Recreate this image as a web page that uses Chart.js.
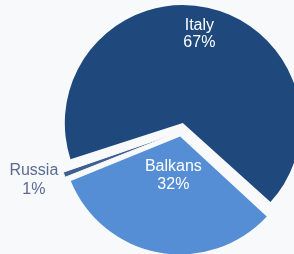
<!DOCTYPE html>
<html>
<head>
<meta charset="utf-8">
<script src="https://cdn.jsdelivr.net/npm/chart.js@4.4.1/dist/chart.umd.min.js"></script>
<style>
  html, body { margin: 0; padding: 0; background: #f8f9fa; }
  #wrap { width: 294px; height: 254px; position: relative; }
</style>
</head>
<body>
<div id="wrap"><canvas id="pieChart"></canvas></div>
<script>
var regions = ["Italy", "Balkans", "Russia"];
var shares = [67, 32, 1];
var sliceColors = ["#1f497d", "#558ed5", "#3e5f8f"];

// explode distance per slice (chart.js offset units, moves offset/4 px)
var explode = [34.4, 20, 26.4];

// label placement: distance from centre, angle nudge (deg), line height
var labelPos = [
    { r: 99, da: -1.4, lh: 16.5, color: "#ffffff" },
    { r: 45, da: -0.5, lh: 18.5, color: "#ffffff" },
    { r: 155, da: 2.0, lh: 18.5, color: "#5a6b93" }
];

// chart.js grows an offset arc's radius; take that back so slices stay equal
var keepRadius = {
    id: 'keepRadius',
    afterDatasetUpdate: function (chart) {
        var arcs = chart.getDatasetMeta(0).data;
        arcs.forEach(function (arc, i) {
            var fix = 1 - Math.sin(Math.min(Math.PI, arc.circumference || 0));
            arc.outerRadius = arc.outerRadius - (explode[i] / 4) * fix;
        });
    }
};

var sliceLabels = {
    id: 'sliceLabels',
    afterDatasetsDraw: function (chart) {
        var ctx = chart.ctx;
        var arcs = chart.getDatasetMeta(0).data;
        ctx.save();
        ctx.font = '16px "Liberation Sans", Arial, sans-serif';
        ctx.textAlign = 'center';
        ctx.textBaseline = 'middle';
        arcs.forEach(function (arc, i) {
            var p = arc.getProps(['x', 'y', 'startAngle', 'endAngle']);
            var lp = labelPos[i];
            var a = (p.startAngle + p.endAngle) / 2 + lp.da * Math.PI / 180;
            var x = p.x + Math.cos(a) * lp.r;
            var y = p.y + Math.sin(a) * lp.r;
            ctx.fillStyle = lp.color;
            ctx.fillText(regions[i], x, y - lp.lh / 2);
            ctx.fillText(shares[i] + '%', x, y + lp.lh / 2);
        });
        ctx.restore();
    }
};

var ctxP = document.getElementById("pieChart").getContext('2d');
var myPieChart = new Chart(ctxP, {
    type: 'pie',
    data: {
        labels: regions,
        datasets: [{
            data: shares,
            backgroundColor: sliceColors,
            borderColor: "#f8f9fa",
            borderWidth: [0, 0, 1],
            offset: explode,
            clip: false
        }]
    },
    options: {
        responsive: true,
        maintainAspectRatio: false,
        animation: false,
        rotation: 251.5,
        radius: 118,
        layout: { padding: { left: 68, right: 0, top: 9, bottom: 0 } },
        plugins: {
            legend: { display: false },
            tooltip: { enabled: false }
        },
        events: []
    },
    plugins: [keepRadius, sliceLabels]
});
</script>
</body>
</html>
